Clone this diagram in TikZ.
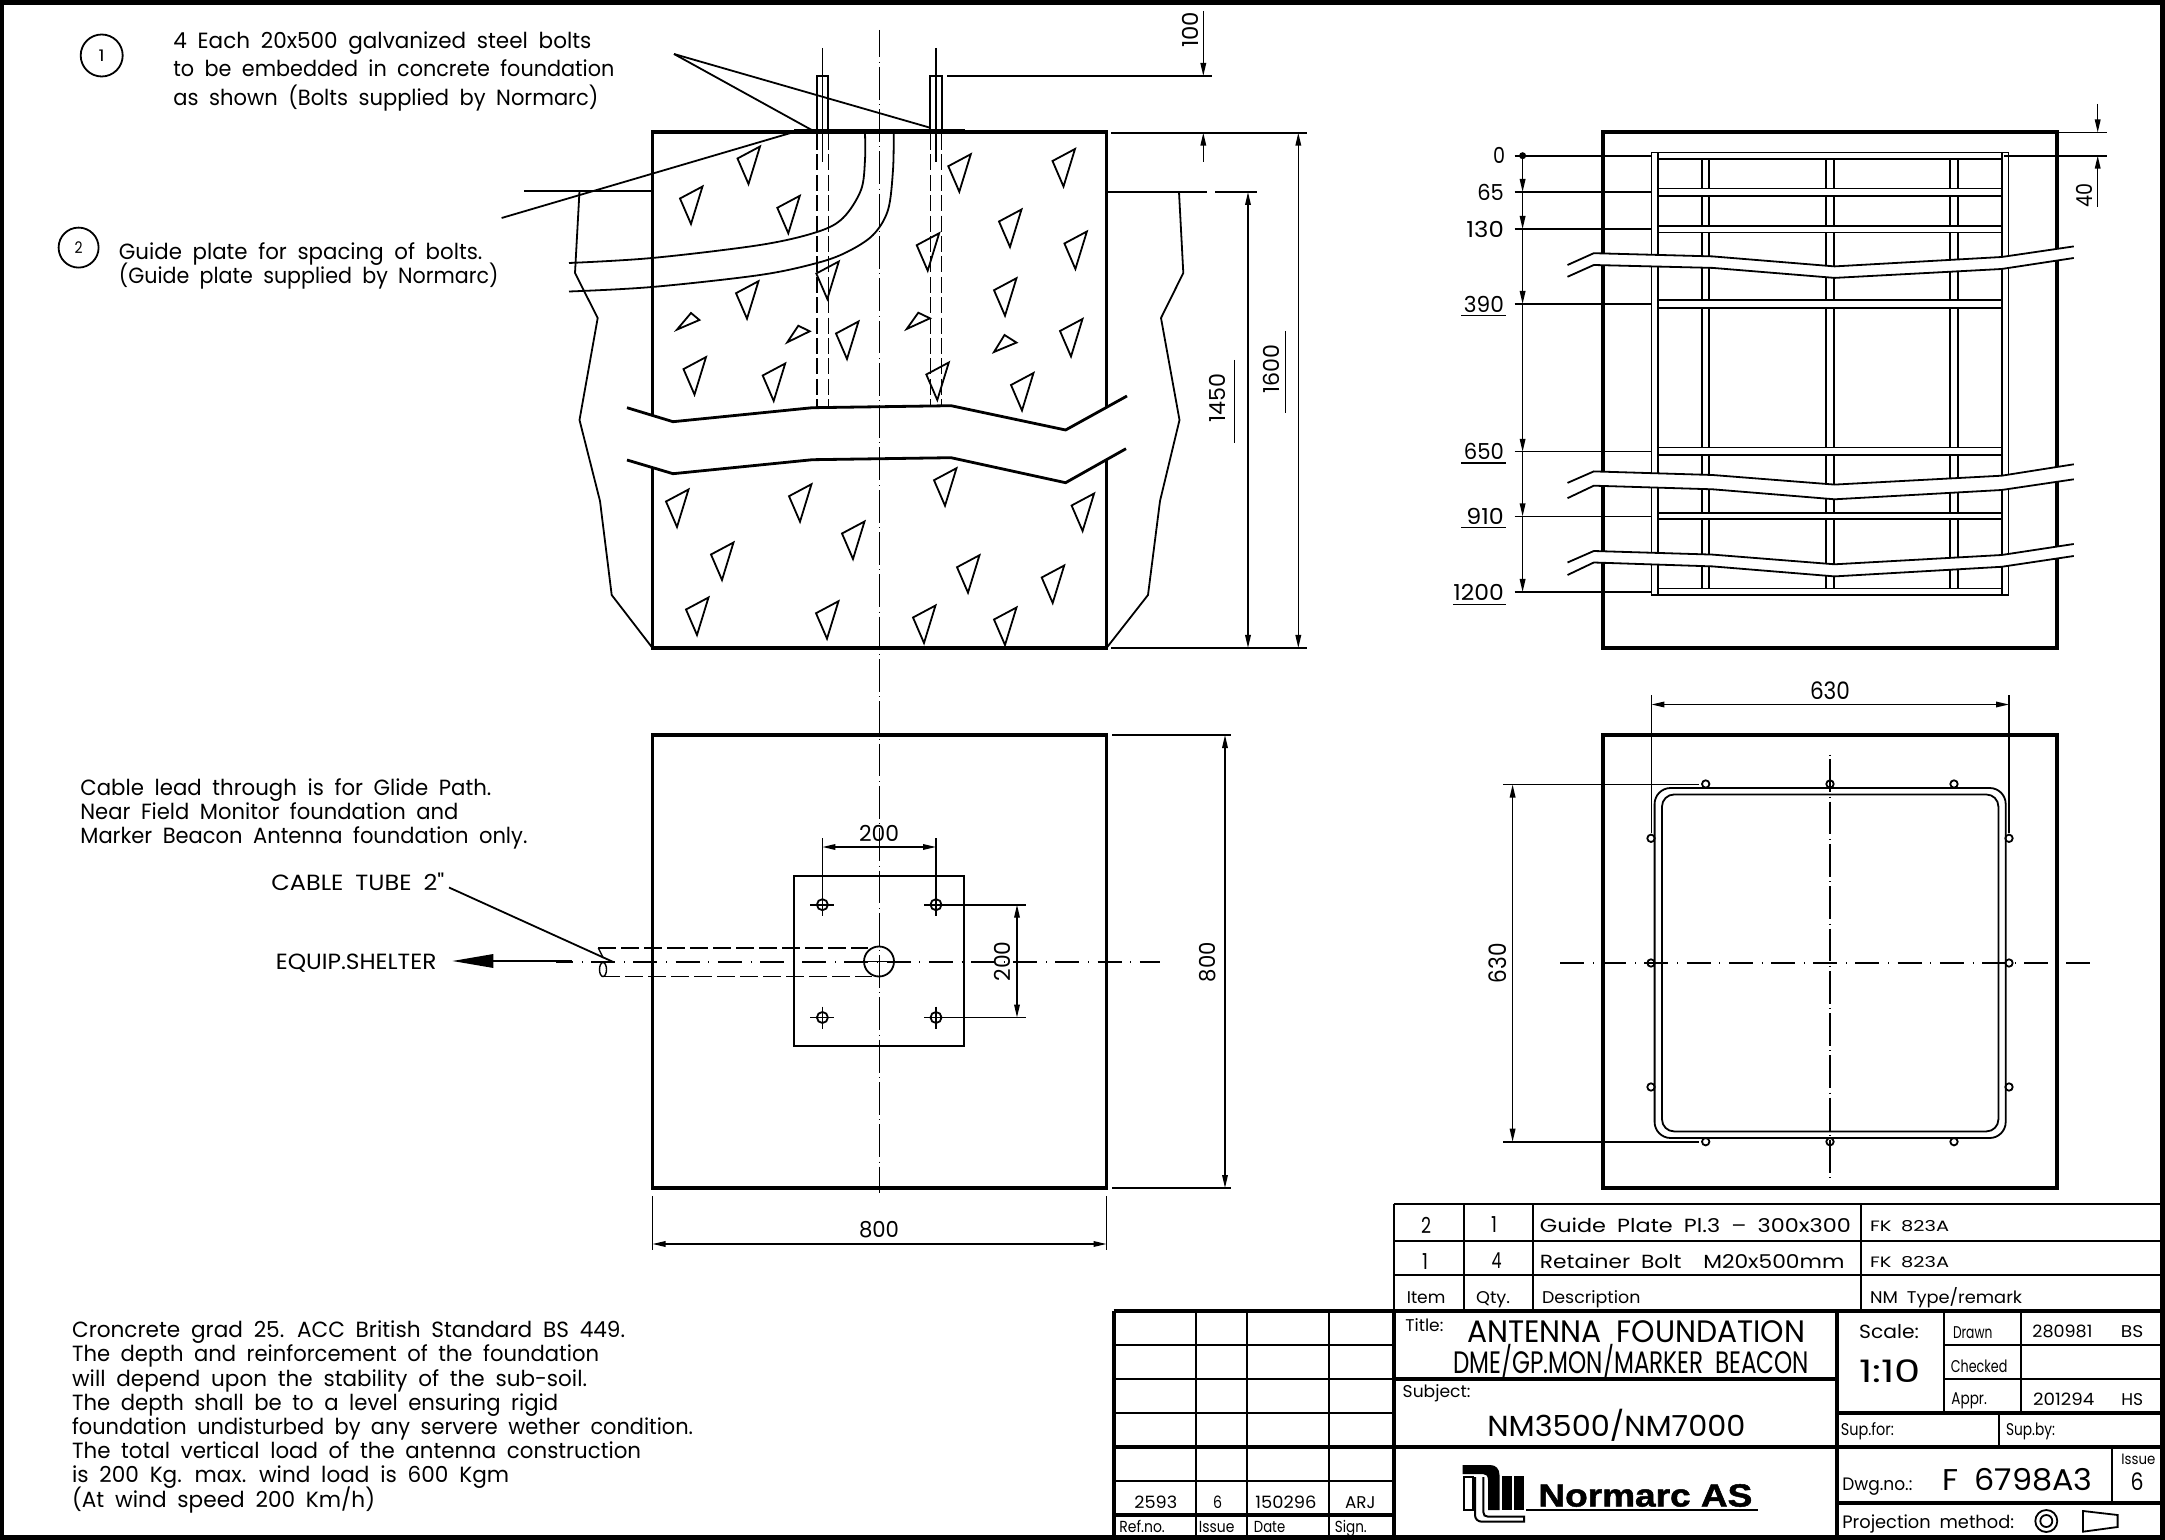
\documentclass[tikz,border=0pt]{standalone}
\usepackage{fontspec}
\usepackage{graphicx}
\usetikzlibrary{arrows.meta}
\newfontfamily\cad{Poppins}
\newfontfamily\logofont[FakeBold=1.5]{Liberation Sans Bold}
\newcounter{tn}
\newcommand{\TL}[5][11]{\stepcounter{tn}\node[anchor=base west,inner sep=0pt] (t\thetn) at (#2,{#3+0.7*#1}) {\cad\fontsize{#1}{#1}\selectfont\spaceskip=.5em\resizebox{\dimexpr #4pt/2\relax}{\height}{#5}};}
\newcommand{\TC}[5][11]{\stepcounter{tn}\node[anchor=base,inner sep=0pt] (t\thetn) at (#2,{#3+0.7*#1}) {\cad\fontsize{#1}{#1}\selectfont\spaceskip=.5em\resizebox{\dimexpr #4pt/2\relax}{\height}{#5}};}
\newcommand{\TR}[5][11]{\stepcounter{tn}\node[anchor=center,rotate=90,inner sep=0pt] (t\thetn) at (#2,#3) {\cad\fontsize{#1}{#1}\selectfont\resizebox{\dimexpr #4pt/2\relax}{\height}{#5}};}
\tikzset{
 heavy/.style={line width=1.9pt,line join=miter},
 brk/.style={line width=1.4pt},
 mid/.style={line width=.9pt},
 fine/.style={line width=.7pt},
 tbl/.style={line width=1pt},
 tbk/.style={line width=2pt},
 dim/.style={line width=.7pt,{Triangle[length=6.5pt,width=2.8pt]}-{Triangle[length=6.5pt,width=2.8pt]}},
 dimr/.style={line width=.7pt,-{Triangle[length=6.5pt,width=2.8pt]}},
 hid/.style={line width=.7pt,dash pattern=on 8pt off 2.2pt},
 cv/.style={line width=.6pt,dash pattern=on 16.4pt off 2.25pt on .5pt off 2pt},
 ch/.style={line width=1pt,dash pattern=on 12pt off 4.4pt on .5pt off 4.2pt},
}
\begin{document}
\begin{tikzpicture}[x=.5pt,y=-.5pt,line cap=butt]
\useasboundingbox (0,0) rectangle (2165,1540);
\fill[white] (0,0) rectangle (2165,1540);
\draw[line width=2.2pt] (2,2.5) rectangle (2162.5,1537.5);

%% ---------- elevation
\draw[heavy] (652.5,132) rectangle (1106.5,648);
\foreach \a/\b in {748.5/184,691/224,788.3/233.3,959.3/191.7,1063.5/186.5,1010/247,1075.4/269,927.7/270.7,827.3/299,747/318.7,1005/315.7,847/359,694.5/394.6,773.7/401,937.3/400,1022/410.5,1071/356.5,
 677/527,800/521.7,945/505.7,1082.6/531,853/559,722/580,968/592.7,1052.7/603,697/635,827/638.7,924/643,1005/645}
  \draw[mid,line join=miter,shift={(\a,\b)}] (-11,-25.5) -- (11.5,-37.5) -- (0,0) -- cycle;
\draw[mid] (677,329.6) -- (691,313) -- (699.4,320) -- cycle;
\draw[mid] (787.3,342.3) -- (798.3,325.7) -- (809.7,331.3) -- cycle;
\draw[mid] (906.7,329) -- (918.3,312.7) -- (930,318.3) -- cycle;
\draw[mid] (994,352) -- (1004.5,335) -- (1016.5,342.6) -- cycle;
% bolts below plate
\foreach \a in {817,828.3,930.3,941.7} \draw[hid] (\a,134) -- (\a,407);
\foreach \a in {822.7,936} \draw[fine] (\a,48) -- (\a,162);
% cable
\draw[mid] plot[smooth,tension=.55] coordinates {(569,263) (652,258) (760,245) (817,232) (843,218) (861,190) (865,160) (865,133)};
\draw[mid] plot[smooth,tension=.55] coordinates {(569,291.5) (652,287) (760,275) (817,263) (847,252) (873,235) (888,210) (893,170) (893.7,133)};
% ground profile
\draw[mid] (524,191) -- (652,191);
\draw[mid] (579.5,191) -- (575,273) -- (597.7,318) -- (579.5,420) -- (600,501) -- (611.7,595) -- (652.5,648);
\draw[mid] (1106.5,192) -- (1207.3,192) (1215,192) -- (1256.7,192);
\draw[mid] (1179,192) -- (1183.3,273) -- (1161,318) -- (1179.5,420) -- (1160,501) -- (1148,595) -- (1106.5,648);
% break
\fill[white] (627,407.7) -- (673,421.7) -- (812.5,407.7) -- (951,405.7) -- (1065.6,430) -- (1127,396) -- (1126,448.7) -- (1065.6,482.7) -- (951,457.7) -- (812.5,459.7) -- (673,473.7) -- (627,460) -- cycle;
\draw[brk] (627,407.7) -- (673,421.7) -- (812.5,407.7) -- (951,405.7) -- (1065.6,430) -- (1127,396);
\draw[brk] (627,460) -- (673,473.7) -- (812.5,459.7) -- (951,457.7) -- (1065.6,482.7) -- (1126,448.7);
% bolts + plate
\foreach \a/\b in {817/828.3,930.3/941.7} \draw[tbl] (\a,132) -- (\a,76) -- (\b,76) -- (\b,132);
\draw[line width=1.9pt] (794,131) -- (964.6,131);
% leaders
\draw[mid] (674,54) -- (811.7,130);
\draw[mid] (674,54) -- (930,127.7);
\draw[mid] (501.6,218) -- (794,132);
% dims
\draw[fine] (947,76) -- (1212,76);
\draw[mid] (1111,132.7) -- (1307.3,132.7);
\draw[mid] (1111,648) -- (1307.3,648);
\draw[dimr] (1203.3,11) -- (1203.3,76);
\draw[dimr] (1203.3,161.7) -- (1203.3,132.7);
\draw[dim] (1248,192) -- (1248,648);
\draw[dim] (1298.3,132.7) -- (1298.3,648);
\TR{1190}{30}{36}{100}
\TR{1217.3}{397.7}{49}{1450}
\TR{1271.7}{369}{49}{1600}
\draw[fine] (1234.7,360) -- (1234.7,443.3);
\draw[fine] (1285.3,331) -- (1285.3,413.3);

% main centre line
\draw[cv,dash phase=2.75pt] (879.5,30) -- (879.5,1193);

%% ---------- plan left
\draw[heavy] (652.5,735) rectangle (1106.5,1188);
\draw[mid] (794,876) rectangle (964.3,1046);
\draw[mid] (879,961.5) circle (15);
\foreach \a in {822.4,936} \foreach \b in {904.7,1017.5} {
  \draw[mid] (\a,\b) circle (5.5);
  \draw[mid] ({\a-12},\b) -- ({\a+12},\b) (\a,{\b-11}) -- (\a,{\b+11});
}
\draw[mid] (864,961.5) -- (894,961.5);
\draw[ch,dash phase=3.5pt] (556,962) -- (1160,962);
\draw[line width=.9pt,dash pattern=on 9pt off 2.5pt] (598.3,948) -- (868,948);
\draw[line width=.9pt,dash pattern=on 9pt off 2.5pt] (602.3,976.5) -- (872,976.5);
\draw[fine] (598.3,948) -- (603.3,958);
\draw[fine] (603,969.5) ellipse (3.5 and 7);
\draw[mid] (449,887.5) -- (613.3,962);
\fill (452.5,961) -- (493.4,954) -- (493.4,968) -- cycle;
\draw[mid] (493,961) -- (572,961);
\TL{271}{882.5}{173}{CABLE TUBE 2"}
\TL{275.5}{962}{160.5}{EQUIP.SHELTER}
% dims
\draw[fine] (822.4,838) -- (822.4,899);
\draw[fine] (936,838) -- (936,899);
\draw[dim] (822.4,847) -- (936,847);
\TC{879}{833.4}{40}{200}
\draw[mid] (936,904.7) -- (1025.5,904.7);
\draw[mid] (936,1017.5) -- (1025.5,1017.5);
\draw[dim] (1017,904.7) -- (1017,1017.5);
\TR{1002.5}{961.5}{40}{200}
\draw[mid] (1112,735) -- (1231,735);
\draw[mid] (1112,1188) -- (1231,1188);
\draw[dim] (1225,735) -- (1225,1188);
\TR{1208}{962}{40}{800}
\draw[mid] (652.5,1196) -- (652.5,1250);
\draw[mid] (1106.5,1196) -- (1106.5,1250);
\draw[dim] (652.5,1244) -- (1106.5,1244);
\TC{879}{1230}{40}{800}

%% ---------- left texts
\draw[mid] (101.7,55.5) circle (21);
\TC[8]{101.7}{55.5}{6}{1}
\draw[mid] (78.6,247.6) circle (20);
\TC[8]{78.6}{247.6}{8}{2}
\TL{173}{41}{418}{4 Each 20x500 galvanized steel bolts}
\TL{173}{68.5}{441}{to be embedded in concrete foundation}
\TL{173}{98}{425}{as shown (Bolts supplied by Normarc)}
\TL{118.5}{251.5}{363.5}{Guide plate for spacing of bolts.}
\TL{118.5}{275.4}{379.5}{(Guide plate supplied by Normarc)}
\TL{80}{788}{411}{Cable lead through is for Glide Path.}
\TL{80}{812}{378}{Near Field Monitor foundation and}
\TL{80}{836}{447}{Marker Beacon Antenna foundation only.}
\TL{71.7}{1329.3}{553}{Croncrete grad 25. ACC British Standard BS 449.}
\TL{71.7}{1353.3}{527}{The depth and reinforcement of the foundation}
\TL{71.7}{1378.3}{515}{will depend upon the stability of the sub-soil.}
\TL{71.7}{1402.3}{486}{The depth shall be to a level ensuring rigid}
\TL{71.7}{1426.7}{621}{foundation undisturbed by any servere wether condition.}
\TL{71.7}{1450.7}{569}{The total vertical load of the antenna construction}
\TL{71.7}{1475}{437}{is 200 Kg. max. wind load is 600 Kgm}
\TL{71.7}{1500}{303}{(At wind speed 200 Km/h)}

%% ---------- reinforcement elevation
\draw[heavy] (1602.6,132) rectangle (2057,648);
\foreach \a in {1701.8,1708.6,1825.8,1833.6,1950.3,1957.6} \draw[mid] (\a,159) -- (\a,589);
\foreach \a/\b in {152.5/159,188.6/195.7,225.7/232.5,300.4/307.8,447.5/455,513/519,588.6/595.4}
  \draw[mid,fill=white] (1658,\a) rectangle (2001.6,\b);
\draw[mid,fill=white] (1651.5,152.5) rectangle (1658,595.4);
\draw[mid,fill=white] (2001.6,152.5) rectangle (2008.4,595.4);
% extension lines
\draw[line width=1pt] (1514.7,155.7) -- (1651,155.7) (2004,155.7) -- (2106.5,155.7);
\fill (1522.6,155.7) circle (3.5);
\draw[mid] (2057,132.5) -- (2106.5,132.5);
\foreach \b in {192,229,304,451.8,516.4,592} \draw[fine] (1514.7,\b) -- (1651,\b);
\draw[dimr] (1522.6,155.7) -- (1522.6,192);
\draw[dimr] (1522.6,192) -- (1522.6,229);
\draw[dimr] (1522.6,229) -- (1522.6,304);
\draw[dimr] (1522.6,304) -- (1522.6,451.8);
\draw[dimr] (1522.6,451.8) -- (1522.6,516.4);
\draw[dimr] (1522.6,516.4) -- (1522.6,592);
\draw[dimr] (2097.7,104) -- (2097.7,132.5);
\draw[dimr] (2097.7,207) -- (2097.7,155.7);
\TR{2084.6}{195.7}{24}{40}
% breaks
\fill[white] (1567.5,265) -- (1593.8,253.2) -- (1712.5,256.4) -- (1834.6,266.4) -- (2001.6,257) -- (2073.8,246.4) -- (2073.8,258) -- (2001.6,269) -- (1834.6,277.9) -- (1712.5,267.9) -- (1593.8,265) -- (1567.5,276.8) -- cycle;
\draw[mid] (1567.5,265) -- (1593.8,253.2) -- (1712.5,256.4) -- (1834.6,266.4) -- (2001.6,257) -- (2073.8,246.4);
\draw[mid] (1567.5,276.8) -- (1593.8,265) -- (1712.5,267.9) -- (1834.6,277.9) -- (2001.6,269) -- (2073.8,258);
\fill[white] (1567.5,482.9) -- (1593.8,471.4) -- (1712.5,475) -- (1834.6,484.6) -- (2001.6,475.7) -- (2073.8,464.3) -- (2073.8,479.3) -- (2001.6,490) -- (1834.6,499.3) -- (1712.5,489.3) -- (1593.8,485.7) -- (1567.5,498.2) -- cycle;
\draw[mid] (1567.5,482.9) -- (1593.8,471.4) -- (1712.5,475) -- (1834.6,484.6) -- (2001.6,475.7) -- (2073.8,464.3);
\draw[mid] (1567.5,498.2) -- (1593.8,485.7) -- (1712.5,489.3) -- (1834.6,499.3) -- (2001.6,490) -- (2073.8,479.3);
\fill[white] (1567.5,562.5) -- (1593.8,551) -- (1712.5,554.6) -- (1834.6,564.3) -- (2001.6,555) -- (2073.8,544) -- (2073.8,556) -- (2001.6,566.8) -- (1834.6,576.4) -- (1712.5,566.4) -- (1593.8,562.5) -- (1567.5,575) -- cycle;
\draw[mid] (1567.5,562.5) -- (1593.8,551) -- (1712.5,554.6) -- (1834.6,564.3) -- (2001.6,555) -- (2073.8,544);
\draw[mid] (1567.5,575) -- (1593.8,562.5) -- (1712.5,566.4) -- (1834.6,576.4) -- (2001.6,566.8) -- (2073.8,556);
% labels
\TC{1499}{155.7}{12}{0}
\TL{1477}{193}{26.5}{65}
\TL{1466}{229.6}{37.5}{130}
\TL{1463.5}{304.6}{40}{390}
\TL{1463.5}{451.8}{40}{650}
\TL{1466}{516.4}{37.5}{910}
\TL{1453}{593}{50.5}{1200}
\draw[fine] (1461,315.4) -- (1505.5,315.4) (1461,463) -- (1505.5,463) (1461,527.5) -- (1505.5,527.5) (1453,604.3) -- (1505.5,604.3);

%% ---------- plan right
\draw[heavy] (1602.6,735) rectangle (2057,1188);
\draw[mid,rounded corners=8pt] (1654.6,788) rectangle (2005.7,1138);
\draw[mid,rounded corners=6pt] (1662,794.5) rectangle (1998.4,1131.4);
\foreach \a/\b in {1705.7/784,1830/784,1954/784,1705.7/1141.7,1830/1141.7,1954/1141.7,1651/838.3,1651/963,1651/1087,2009/838.3,2009/963,2009/1087}
   \draw[mid] (\a,\b) circle (3.7);
\draw[cv,dash phase=18.75pt] (1830,754.5) -- (1830,1179.6);
\draw[ch] (1560,963) -- (2097.5,963);
\draw[fine] (1651.4,695) -- (1651.4,833);
\draw[fine] (2009,695) -- (2009,833);
\draw[dim] (1651.4,704.5) -- (2009,704.5);
\TC[12]{1830}{690.7}{40}{630}
\draw[mid] (1503.4,784.5) -- (1699,784.5);
\draw[mid] (1503.4,1141.7) -- (1699,1141.7);
\draw[dim] (1512.6,784.5) -- (1512.6,1141.7);
\TR[12]{1498}{963}{40}{630}

%% ---------- parts table
\draw[tbl] (1393.5,1204.3) -- (2162,1204.3);
\draw[tbl] (1393.5,1240.7) -- (2162,1240.7);
\draw[tbl] (1393.5,1275.3) -- (2162,1275.3);
\foreach \a in {1393.5,1464,1532.7,1861} \draw[tbl] (\a,1204.3) -- (\a,1311);
\TC{1426}{1226}{10}{2}
\TC{1494}{1225}{6}{1}
\TC{1425}{1261.7}{6}{1}
\TC{1496.7}{1260.7}{10}{4}
\TL[9.5]{1539.5}{1225.7}{311}{Guide Plate Pl.3 \textendash\ 300x300}
\TL[9.5]{1539.5}{1261.7}{304.5}{Retainer Bolt\hspace{1em}M20x500mm}
\TL[7.5]{1869.7}{1226.7}{79}{FK 823A}
\TL[7.5]{1869.7}{1262.3}{79}{FK 823A}
\TL[8.5]{1406.4}{1298}{38.6}{Item}
\TL[8.5]{1475.7}{1298}{34}{Qty.}
\TL[8.5]{1541.6}{1298}{98.4}{Description}
\TL[8.5]{1869.7}{1298}{152}{NM Type/remark}

%% ---------- title block
\draw[tbk] (1113.6,1311) -- (2162,1311);
\draw[tbk] (1113.6,1447) -- (2162,1447);
\draw[tbk] (1113.6,1311) -- (1113.6,1537);
\draw[tbk] (1393.5,1311) -- (1393.5,1537);
\draw[tbk] (1837,1311) -- (1837,1537);
\draw[tbk] (1393.5,1379.3) -- (1837,1379.3);
\draw[tbk] (1837,1413.3) -- (2162,1413.3);
\draw[tbk] (1837,1503.3) -- (2162,1503.3);
\draw[tbk] (1113.6,1515) -- (1393.5,1515);
\foreach \b in {1345.3,1379.3,1413.3,1480.7} \draw[tbl] (1113.6,\b) -- (1393.5,\b);
\foreach \a in {1195.8,1246.7,1329} \draw[tbl] (\a,1311) -- (\a,1537);
\draw[tbl] (1943.7,1311) -- (1943.7,1413.3);
\draw[tbl] (2020.5,1311) -- (2020.5,1413.3);
\draw[tbl] (1943.7,1345.3) -- (2162,1345.3);
\draw[tbl] (1943.7,1379.3) -- (2162,1379.3);
\draw[tbl] (1998.8,1413.3) -- (1998.8,1447);
\draw[tbl] (2112,1447) -- (2112,1503.3);

\TL[8.5]{1405}{1326}{38}{Title:}
\TL[15.5]{1466.8}{1331.7}{338}{ANTENNA FOUNDATION}
\TL[15.5]{1453}{1363}{355.5}{DME/GP.MON/MARKER BEACON}
\TL[8.5]{1402.3}{1391.7}{67.7}{Subject:}
\TL[14.5]{1487}{1426}{258}{NM3500/NM7000}
\TL[9.5]{1858.8}{1331.7}{59.8}{Scale:}
\TL[15.5]{1858.9}{1372}{61.7}{1:10}
\TL[8.5]{1952.6}{1332.7}{39.4}{Drawn}
\TL[8.5]{2032}{1332}{60}{280981}
\TL[8.5]{2120.4}{1332}{22.4}{BS}
\TL[8.5]{1950.5}{1366.7}{56.5}{Checked}
\TL[8.5]{1951}{1399}{35.5}{Appr.}
\TL[8.5]{2032.7}{1399.3}{61.3}{201294}
\TL[8.5]{2121}{1399.3}{21.8}{HS}
\TL[8.5]{1840.5}{1430}{53}{Sup.for:}
\TL[8.5]{2005.6}{1430}{49}{Sup.by:}
\TL[9]{1842}{1484.3}{70}{Dwg.no.:}
\TL[15]{1942}{1480}{150}{F 6798A3}
\TL[7.5]{2121}{1459.3}{34}{Issue}
\TC[12]{2137}{1482}{13}{6}
\TL[9]{1842}{1522.3}{171.7}{Projection method:}
\draw[mid] (2046.3,1521) circle (11);
\draw[mid] (2046.3,1521) circle (6);
\draw[mid] (2083,1511) -- (2117.6,1515) -- (2117.6,1527) -- (2083,1531.7) -- cycle;
\TL[8.5]{1134}{1502.7}{42.8}{2593}
\TC[8.5]{1217.5}{1502.7}{9}{6}
\TL[8.5]{1255}{1502.7}{61}{150296}
\TL[8.5]{1344.6}{1502.7}{30.4}{ARJ}
\TL[8]{1119}{1526.7}{45.5}{Ref.no.}
\TL[8]{1198.5}{1526.7}{35.5}{Issue}
\TL[8]{1253.5}{1526.7}{31.3}{Date}
\TL[8]{1334.4}{1526.7}{32}{Sign.}

%% ---------- logo
\fill (1462.7,1465) -- (1490,1465) .. controls (1496,1465) and (1499.5,1469) .. (1499.5,1475) -- (1499.5,1510) -- (1488,1510) -- (1488,1480) .. controls (1488,1476) and (1486,1474) .. (1483,1474) -- (1462.7,1474) -- cycle;
\draw[tbl] (1463.5,1477) rectangle (1473,1510);
\draw[tbl] (1475,1477) -- (1475,1515) .. controls (1475,1519) and (1478,1521.7) .. (1482,1521.7) -- (1524,1521.7) -- (1524,1516.7) -- (1488,1516.7) .. controls (1485,1516.7) and (1483.3,1515) .. (1483.3,1512) -- (1483.3,1477);
\fill (1501.7,1476) rectangle (1511.7,1510);
\fill (1514,1476) rectangle (1524,1510);
\draw[tbl] (1526,1510) -- (1757.6,1510);
\node[anchor=base west,inner sep=0pt] (logo) at (1538,1506.5) {\logofont\fontsize{16}{16}\selectfont\resizebox{107pt}{\height}{Normarc AS}};
\end{tikzpicture}
\end{document}
